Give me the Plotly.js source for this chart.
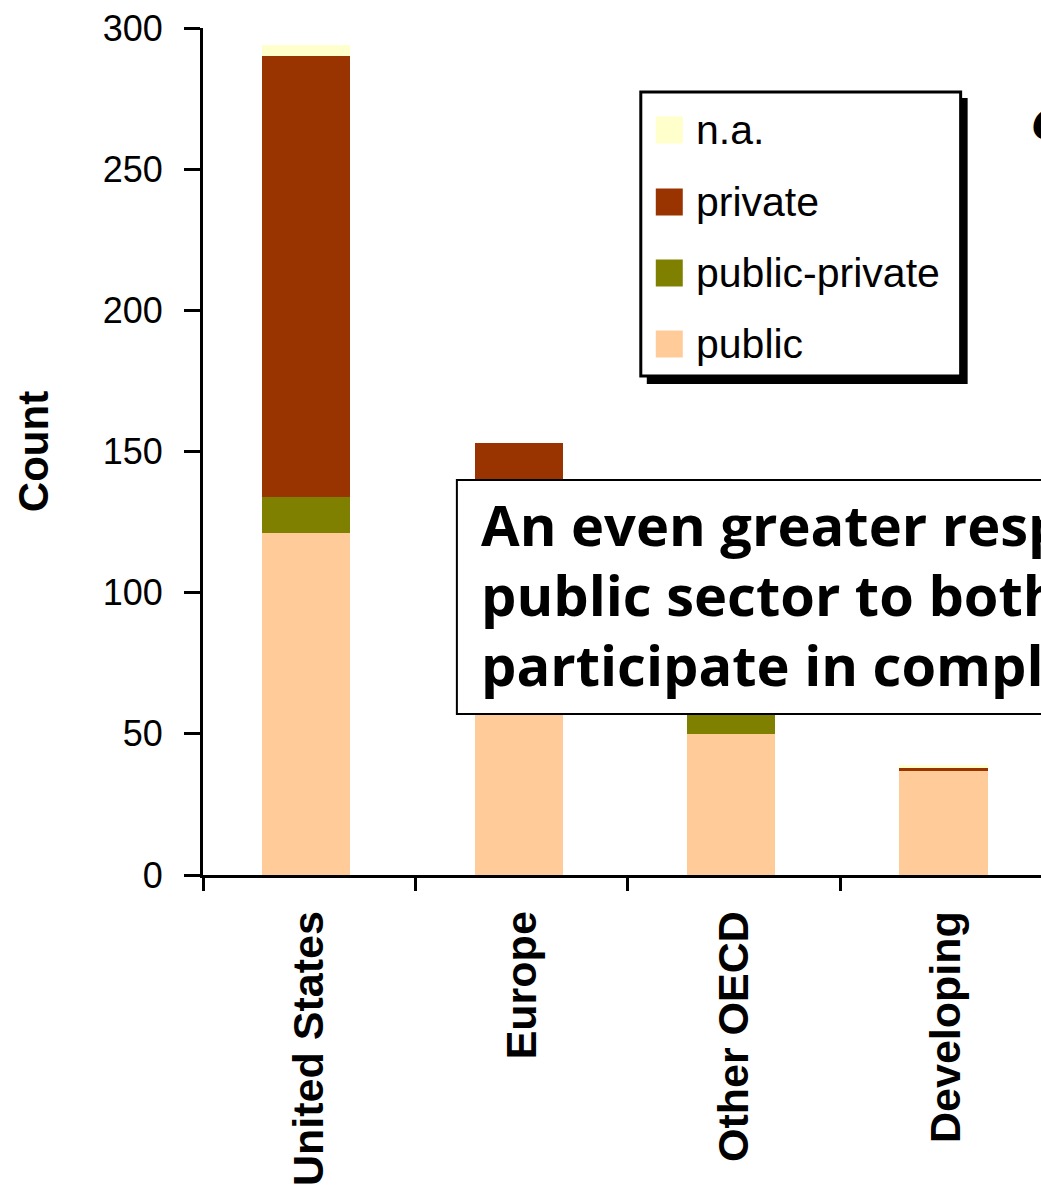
<!DOCTYPE html>
<html>
<head>
<meta charset="utf-8">
<script src="https://cdn.plot.ly/plotly-3.0.1.min.js"></script>
<style>
  html, body { margin: 0; padding: 0; overflow: hidden; background: #ffffff; }
  #chart { width: 1300px; height: 1190px; }
</style>
</head>
<body>
<div id="chart"></div>
<script>
// Project counts by region and ownership type
const regions = ['United States', 'Europe', 'Other OECD', 'Developing'];
const seriesNames = ['public', 'public-private', 'private', 'n.a.'];
const seriesColors = ['#FFCC99', '#808000', '#993300', '#FFFFCC'];
const publicCounts = [121, 86, 50, 37];
const publicPrivateCounts = [13, 11, 9, 0];
const privateCounts = [156, 56, 32, 1];
const naCounts = [4, 0, 1, 1];
const yTicks = [0, 50, 100, 150, 200, 250, 300];
const noteLines = [
  'An even greater responsibility for the',
  'public sector to both finance and',
  'participate in complex projects'
];
const sideTitle = 'C';

const seriesValues = [publicCounts, publicPrivateCounts, privateCounts, naCounts];

// Page geometry (pixels)
const W = 1300, H = 1190;
const ML = 203, MT = 28, MB = 315;
const PW = 1062.5;
const MR = W - ML - PW;
const PH = H - MT - MB;
const px = x => (x - ML) / PW;          // pixel x -> paper x
const py = y => (MT + PH - y) / PH;     // pixel y -> paper y

// Bars sit slightly left of the category centre
const barWidth = 0.415;
const barOffset = -barWidth / 2 - 0.014;

const traces = seriesNames.map((name, i) => ({
  type: 'bar',
  name: name,
  x: regions,
  y: seriesValues[i],
  width: barWidth,
  offset: barOffset,
  marker: { color: seriesColors[i], line: { width: 0 } },
  showlegend: false,
  hoverinfo: 'x+y+name'
}));

const shapes = [];
const annotations = [];

// Legend box with drop shadow, entries listed top-down in reverse stacking order
shapes.push({ type: 'rect', xref: 'paper', yref: 'paper', layer: 'above',
  x0: px(647), x1: px(968), y0: py(384), y1: py(98),
  fillcolor: '#000000', line: { width: 0 } });
shapes.push({ type: 'rect', xref: 'paper', yref: 'paper', layer: 'above',
  x0: px(641), x1: px(961), y0: py(376), y1: py(92),
  fillcolor: '#ffffff', line: { color: '#000000', width: 3 } });
const legendRowsY = [130, 202, 273, 344];
const legendOrder = [3, 2, 1, 0];
legendOrder.forEach((s, r) => {
  const cy = legendRowsY[r];
  shapes.push({ type: 'rect', xref: 'paper', yref: 'paper', layer: 'above',
    x0: px(656), x1: px(683), y0: py(cy + 13.5), y1: py(cy - 13.5),
    fillcolor: seriesColors[s], line: { width: 0 } });
  annotations.push({ xref: 'paper', yref: 'paper', x: px(694), y: py(cy),
    xanchor: 'left', yanchor: 'middle', showarrow: false, text: seriesNames[s],
    font: { family: 'Liberation Sans, Arial, sans-serif', size: 41, color: '#000000' } });
});

// Comment box over the chart
shapes.push({ type: 'rect', xref: 'paper', yref: 'paper', layer: 'above',
  x0: px(457), x1: px(1290), y0: py(714), y1: py(480),
  fillcolor: '#ffffff', line: { color: '#000000', width: 2 } });
const noteY = [524, 594, 664];
noteLines.forEach((t, i) => {
  annotations.push({ xref: 'paper', yref: 'paper', x: px(479), y: py(noteY[i]),
    xanchor: 'left', yanchor: 'middle', showarrow: false, text: t,
    font: { family: 'Open Sans, sans-serif', size: 56, weight: 'bold', color: '#000000' } });
});

// Side heading
annotations.push({ xref: 'paper', yref: 'paper', x: px(1030), y: py(125),
  xanchor: 'left', yanchor: 'middle', showarrow: false, text: sideTitle,
  font: { family: 'DejaVu Sans, sans-serif', size: 40, weight: 'bold', style: 'italic', color: '#000000' } });

const layout = {
  width: W, height: H,
  margin: { l: ML, r: MR, t: MT, b: MB, pad: 0 },
  paper_bgcolor: '#ffffff', plot_bgcolor: '#ffffff',
  barmode: 'stack',
  showlegend: false,
  xaxis: {
    type: 'category',
    range: [-0.5, 4.5],
    tickson: 'boundaries',
    ticks: 'outside', ticklen: 13, tickwidth: 3, tickcolor: '#000000',
    showline: true, linewidth: 3, linecolor: '#000000',
    showgrid: false, zeroline: false,
    tickangle: -90,
    ticklabelstandoff: 16,
    tickfont: { family: 'Liberation Sans, Arial, sans-serif', size: 43, weight: 'bold', color: '#000000' },
    fixedrange: true
  },
  yaxis: {
    range: [0, 300],
    tickvals: yTicks,
    ticks: 'outside', ticklen: 16, tickwidth: 3, tickcolor: '#000000',
    showline: true, linewidth: 3, linecolor: '#000000',
    showgrid: false, zeroline: false,
    ticklabelstandoff: 14,
    tickfont: { family: 'Liberation Sans, Arial, sans-serif', size: 36, color: '#000000' },
    title: { text: 'Count', standoff: 42,
      font: { family: 'Liberation Sans, Arial, sans-serif', size: 42, weight: 'bold', color: '#000000' } },
    fixedrange: true
  },
  shapes: shapes,
  annotations: annotations
};

Plotly.newPlot('chart', traces, layout, { displayModeBar: false, staticPlot: true });
</script>
</body>
</html>
